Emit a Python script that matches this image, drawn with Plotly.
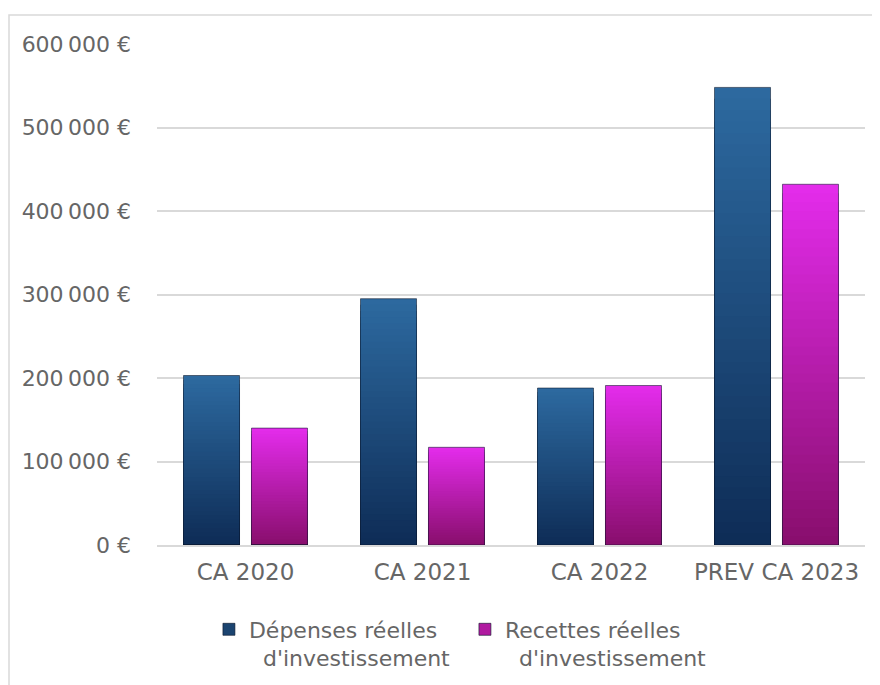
import plotly.graph_objects as go

categories = ["CA 2020", "CA 2021", "CA 2022", "PREV CA 2023"]
depenses = [203000, 295000, 188000, 548000]
recettes = [140000, 117000, 191000, 432000]
series_names = ["Dépenses réelles<br>\u00a0\u00a0d'investissement",
                "Recettes réelles<br>\u00a0\u00a0d'investissement"]
tick_values = [0, 100000, 200000, 300000, 400000, 500000, 600000]
tick_labels = ["0 €", "100\u2009000 €", "200\u2009000 €", "300\u2009000 €",
               "400\u2009000 €", "500\u2009000 €", "600\u2009000 €"]

# gradient colours (bottom, top)
grad = {
    0: ((14, 44, 86), (45, 106, 160)),
    1: ((136, 14, 108), (228, 44, 236)),
}
legend_colors = ["#1B4470", "#B01AA0"]

# page has an 8px body margin; figure drawn at (8, 8)
W, H = 872, 677
ML, MR, MT, MB = 149, 15, 36, 140

fig = go.Figure()
N = 40
for s, vals in enumerate([depenses, recettes]):
    bot, top = grad[s]
    for k in range(N):
        frac = (N - k) / N
        t = (N - k - 0.5) / N
        col = "rgb({},{},{})".format(*[round(b + (tp - b) * t) for b, tp in zip(bot, top)])
        fig.add_trace(go.Bar(
            x=categories, y=[v * frac for v in vals], offsetgroup=str(s),
            marker=dict(color=col, line=dict(width=0)),
            showlegend=False, hoverinfo="skip"))
    # outline
    fig.add_trace(go.Bar(
        x=categories, y=vals, offsetgroup=str(s), name=series_names[s],
        marker=dict(color="rgba(0,0,0,0)", line=dict(color="rgba(10,20,40,0.55)", width=1)),
        showlegend=False))
    # legend-only trace (same offset group so it takes no slot)
    fig.add_trace(go.Bar(
        x=[categories[0]], y=[0], name=series_names[s],
        marker=dict(color=legend_colors[s], line=dict(color="rgba(10,20,40,0.6)", width=1)),
        showlegend=True, offsetgroup=str(s), hoverinfo="skip"))

pw = W - ML - MR
ph = H - MT - MB
x0 = (1 - ML) / pw
y1 = (H - MB - 7) / ph
fig.add_shape(type="rect", xref="paper", yref="paper",
              x0=x0, x1=1.5, y0=-2, y1=y1,
              line=dict(color="#D9D9D9", width=1.5), fillcolor="rgba(0,0,0,0)", layer="below")

FONT = "DejaVu Sans"
TXT = "#666666"
fig.update_layout(
    width=W, height=H,
    margin=dict(l=ML, r=MR, t=MT, b=MB),
    paper_bgcolor="white", plot_bgcolor="white",
    barmode="group", bargap=0.232, bargroupgap=0.176,
    font=dict(family=FONT, color=TXT),
    xaxis=dict(showgrid=False, showline=True, linecolor="#D9D9D9", linewidth=1.5,
               tickfont=dict(size=23, color=TXT, family=FONT), ticks="",
               categoryorder="array", categoryarray=categories, ticklabelstandoff=6),
    yaxis=dict(range=[0, 600000], tickvals=tick_values, ticktext=tick_labels,
               showgrid=True, gridcolor="#D9D9D9", gridwidth=1.5, zeroline=False,
               tickfont=dict(size=22, color=TXT, family=FONT), ticks="",
               ticklabelstandoff=25),
    legend=dict(orientation="h", xref="container", yref="container",
                x=0.524, xanchor="center", y=0.113, yanchor="top",
                font=dict(size=22, color=TXT, family=FONT), valign="top",
                itemwidth=30, traceorder="normal", entrywidth=211),
    showlegend=True,
)

fig.write_html("out.html")
